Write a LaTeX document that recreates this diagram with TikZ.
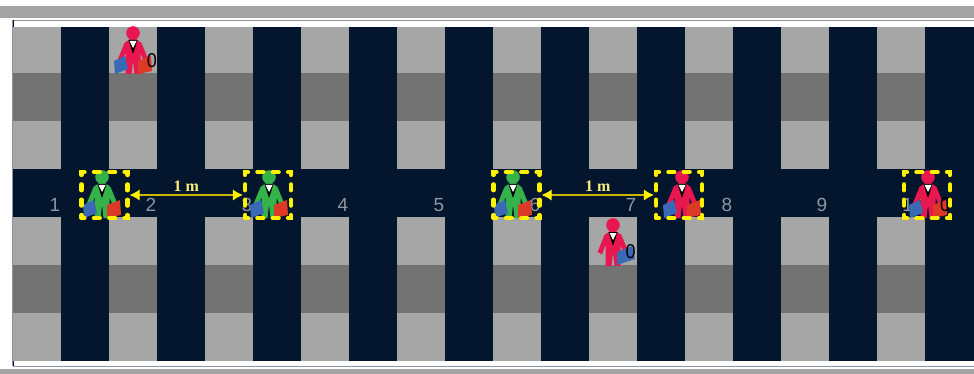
\documentclass[tikz,border=0pt]{standalone}
\usepackage{fontspec}
\setmainfont{Liberation Serif}
\newfontfamily\cellfont{Liberation Sans}
\usetikzlibrary{arrows.meta}
\definecolor{gridNavy} {HTML}{04162E}
\definecolor{gridLight}{HTML}{A6A6A6}
\definecolor{gridDark} {HTML}{737373}
\definecolor{stripGrey}{HTML}{A3A3A3}
\definecolor{frameLine}{HTML}{8A94A3}
\definecolor{cellGrey} {HTML}{8F96A0}
\definecolor{markYellow}{HTML}{FFF200}
\definecolor{gapYellow}{HTML}{C9B800}
\definecolor{labelYellow}{HTML}{FBEF7A}
\definecolor{suitGreen}{HTML}{35B24A}
\definecolor{suitRed}  {HTML}{E8174F}
\definecolor{caseBlue} {HTML}{3A69B5}
\definecolor{caseRed}  {HTML}{DC3A26}
\tikzset{
  cellnum/.style={text=cellGrey,font=\cellfont\fontsize{19}{19}\selectfont,inner sep=0pt},
  markbox/.style={draw=markYellow,line width=4.2pt,line cap=round,dash pattern=on 6pt off 9.33pt,dash phase=3pt,
                  minimum width=46pt,minimum height=46pt,inner sep=0pt},
  gapline/.style={draw=gapYellow,line width=1.1pt,{Latex[length=10pt,width=11pt,markYellow]}-{Latex[length=10pt,width=11pt,markYellow]}},
  gaplabel/.style={text=labelYellow,font=\bfseries\fontsize{16}{16}\selectfont,inner sep=0pt},
  countnum/.style={text=black,font=\cellfont\fontsize{20}{20}\selectfont,inner sep=0pt,xscale=0.9},
  pics/traveller/.style={code={
    \fill[#1] (0,0) circle (6.8);
    \fill[#1] (-3,6) -- (3,6) -- (8.5,10) -- (15.5,27) -- (11,29.5) -- (7.5,20) -- (7.5,41) -- (1.5,41) -- (0,28)
      -- (-1.5,41) -- (-7.5,41) -- (-7.5,20) -- (-11,29.5) -- (-15.5,27) -- (-8.5,10) -- cycle;
    \fill[black] (-4.5,7) -- (4.5,7) -- (0,21) -- cycle;
    \fill[white] (-3.5,8) -- (3.5,8) -- (0,15) -- cycle;
  }},
  pics/bluecase/.style={code={
    \fill[caseBlue] (-19,28) -- (-8,23) -- (-5,36) -- (-18,41) -- cycle;
  }},
  pics/redcase/.style={code={
    \fill[caseRed] (5,28) -- (18,23) -- (19,38) -- (5,41) -- cycle;
  }},
}
\begin{document}
\begin{tikzpicture}[x=1pt,y=-1pt]
  \useasboundingbox (0,0) rectangle (974,374);
  % strips round the grid
  \fill[white] (0,0) rectangle (974,374);
  \fill[stripGrey] (0,6) rectangle (974,18);
  \fill[stripGrey] (0,369) rectangle (974,374);
  \draw[frameLine,line width=1pt] (12.5,366) -- (12.5,20.5) -- (974,20.5);
  \draw[frameLine,line width=1pt] (12.5,366) -- (974,366);
  \fill[gridNavy] (12.5,20.5) rectangle (13.5,366);
  % floor
  \fill[gridNavy] (13,27) rectangle (974,360.5);
  \foreach \cx in {13,109,...,877} {
    \foreach \ry/\rh/\rc in {27/73/gridLight,73/121/gridDark,121/169/gridLight,
                             217/265/gridLight,265/313/gridDark,313/360.5/gridLight} {
      \fill[\rc] (\cx,\ry) rectangle (\cx+48,\rh);
    }
  }
  % cell numbers
  \foreach \n/\nx in {1/55,2/151,3/247,4/343,5/439,6/535,7/631,8/727,9/822,10/913} {
    \node[cellnum] (cell\n) at (\nx,205) {\n};
  }
  % walking and waiting people
  \foreach \hx/\hy/\hc in {133/33/suitRed,102/177/suitGreen,269/177/suitGreen,513/177/suitGreen,682/177/suitRed,928/177/suitRed} {
    \pic at (\hx,\hy) {traveller=\hc};
    \pic at (\hx,\hy) {bluecase};
    \pic at (\hx,\hy) {redcase};
  }
  \pic at (613,225) {traveller=suitRed};
  \fill[caseBlue] (617,252) -- (632,246) -- (635,259) -- (617,265) -- cycle;
  \node[countnum] (countA) at (152,60.5) {0};
  \node[countnum] (countB) at (630.5,252) {0};
  \node[countnum] (countC) at (945,205) {0};
  % pairs at their stops
  \node[markbox] (boxA) at (104.5,195) {};
  \node[markbox] (boxB) at (268,195) {};
  \node[markbox] (boxC) at (516.5,195) {};
  \node[markbox] (boxD) at (679,195) {};
  \node[markbox] (boxE) at (927,195) {};
  \draw[gapline] (boxA.east) -- node[gaplabel,above=2.5pt] (gapAB) {1 m} (boxB.west);
  \draw[gapline] (boxC.east) -- node[gaplabel,above=2.5pt] (gapCD) {1 m} (boxD.west);
\end{tikzpicture}
\end{document}
